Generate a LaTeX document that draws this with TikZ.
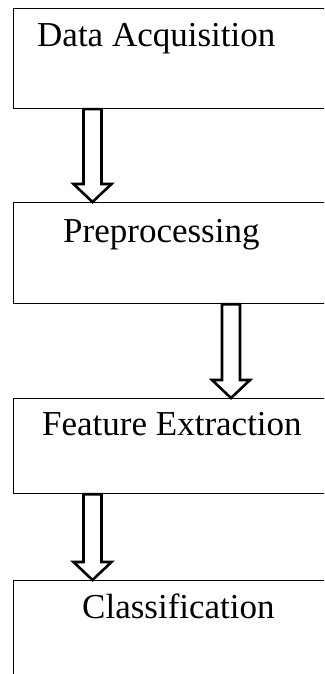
\documentclass[tikz,border=0pt]{standalone}
\usepackage{fontspec}
\setmainfont{Liberation Serif}
\usetikzlibrary{calc}
\usetikzlibrary{positioning}

\tikzset{
    stage/.style={draw, line width=1.2pt, rectangle, anchor=north west, minimum width=330pt, inner sep=0pt},
    caption/.style={anchor=base west, inner sep=0pt, font=\fontsize{35}{40}\selectfont},
    hollow/.style={draw, fill=white, line width=2.6pt, miter limit=10}
}

\newcommand{\hollowarrow}[2]{%
    \draw[hollow] let \p1=(#1), \p2=(#2) in
        (\x1-9pt,\y1) -- (\x1-9pt,\y2+18pt) -- (\x1-19pt,\y2+18pt) -- (\x2,\y2)
        -- (\x1+19pt,\y2+18pt) -- (\x1+9pt,\y2+18pt) -- (\x1+9pt,\y1) -- cycle;}

\begin{document}
\begin{tikzpicture}[x=1pt,y=-1pt]
                \useasboundingbox (0,0) rectangle (324,674);
                \clip (0,0) rectangle (324,674);

                \node[stage, minimum height=100pt] (acq) at (13,8) {};
                \node[stage, minimum height=101pt] (prep) at (13,202) {};
                \node[stage, minimum height=95pt] (feat) at (13,398) {};
                \node[stage, minimum height=120pt] (clas) at (13,580) {};

                \node[caption] (acqtxt) at ([xshift=24pt,yshift=-39pt]acq.north west) {Data Acquisition};
                \node[caption] (preptxt) at ([xshift=50pt,yshift=-40pt]prep.north west) {Preprocessing};
                \node[caption] (feattxt) at ([xshift=29pt,yshift=-37pt]feat.north west) {Feature Extraction};
                \node[caption] (clastxt) at ([xshift=69pt,yshift=-38pt]clas.north west) {Classification};

                \coordinate (A) at ([xshift=79.5pt]acq.south west);
                \coordinate (B) at ([xshift=218pt]prep.south west);
                \coordinate (C) at ([xshift=79.5pt]feat.south west);

                \hollowarrow{A}{A |- prep.north}
                \hollowarrow{B}{B |- feat.north}
                \hollowarrow{C}{C |- clas.north}
\end{tikzpicture}
\end{document}
